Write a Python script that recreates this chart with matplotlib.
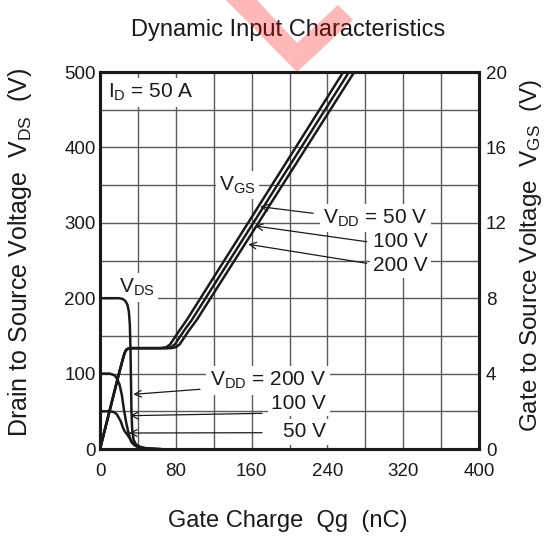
import matplotlib
matplotlib.use('Agg')
import matplotlib.pyplot as plt
from matplotlib.patches import Polygon

plt.rcParams['font.family'] = ['Liberation Sans', 'DejaVu Sans']
plt.rcParams['mathtext.fontset'] = 'custom'
plt.rcParams['mathtext.rm'] = 'Liberation Sans'
plt.rcParams['mathtext.default'] = 'regular'

ink = '#1a1a1a'

# ---- data ----
# Drain-source voltage (left axis, V) vs gate charge (nC)
qg_vds_200 = [0, 20, 24, 27, 29, 30.5, 31.5, 32.2, 32.7, 33.2, 34, 35.5, 38, 42, 48, 56, 65]
vds_200 = [200, 200, 199, 196, 191, 182, 165, 130, 90, 50, 25, 12, 6, 3, 1.2, 0.4, 0]

qg_vds_100 = [0, 10, 13, 16, 18, 20.5, 23, 25.3, 27.8, 30, 31.3, 33.5, 36.6, 41, 47, 55, 62]
vds_100 = [100, 100, 99, 97, 93, 86, 72, 52, 34, 22, 16, 9, 5, 2.5, 1, 0.3, 0]

qg_vds_50 = [0, 10, 13, 16, 18, 20, 22, 24, 26, 28, 31, 33.5, 36.6, 40, 44, 52, 58]
vds_50 = [50, 50, 49.5, 48, 45.5, 41, 36.5, 29, 23.5, 20.5, 15, 9, 5, 2.5, 1, 0.3, 0]

# Gate-source voltage (right axis, V) vs gate charge (nC)
qg_vgs_50 = [0, 10, 20, 24, 26, 28, 31, 64, 70, 74, 78, 84, 91.5, 256.8]
qg_vgs_100 = [0, 10, 20, 24, 26, 28, 31, 70, 75, 79, 83, 89, 96.8, 262.8]
qg_vgs_200 = [0, 10, 20, 24, 26, 28, 31, 75, 80, 84, 88, 94, 102, 268.4]
vgs_50 = [0, 2.0, 4.0, 4.75, 5.1, 5.28, 5.35, 5.35, 5.4, 5.55, 5.85, 6.3, 6.84, 20]
vgs_100 = vgs_50
vgs_200 = vgs_50

x_ticks = [0, 80, 160, 240, 320, 400]
left_ticks = [0, 100, 200, 300, 400, 500]
right_ticks = [0, 4, 8, 12, 16, 20]

# ---- figure ----
fig = plt.figure(figsize=(5.47, 5.36), dpi=100)
ax = fig.add_axes([100 / 547, 1 - 449 / 536, 379 / 547, 377 / 536])
ax2 = ax.twinx()

ax.set_xlim(0, 400)
ax.set_ylim(0, 500)
ax2.set_ylim(0, 20)

ax.set_xticks(x_ticks)
ax.set_xticks(range(0, 401, 40), minor=True)
ax.set_yticks(left_ticks)
ax.set_yticks(range(0, 501, 50), minor=True)
ax2.set_yticks(right_ticks)

ax.set_axisbelow(True)
ax.grid(True, which='both', color='#5a5a5a', lw=1.0)

for a in (ax, ax2):
    a.tick_params(which='both', length=0, labelsize=13.5, labelcolor=ink)
    for s in a.spines.values():
        s.set_linewidth(2.2)
        s.set_color(ink)
ax.tick_params(axis='x', pad=10)
ax.tick_params(axis='y', pad=3)
ax2.tick_params(axis='y', pad=5)

# curves
for q, v in [(qg_vds_200, vds_200), (qg_vds_100, vds_100), (qg_vds_50, vds_50)]:
    ax.plot(q, v, color=ink, lw=1.8, zorder=3, solid_capstyle='butt')
for q, v in [(qg_vgs_50, vgs_50), (qg_vgs_100, vgs_100), (qg_vgs_200, vgs_200)]:
    ax2.plot(q, v, color=ink, lw=1.8, zorder=3, solid_capstyle='butt')

# labels
box = dict(facecolor='white', edgecolor='none', pad=2.5)
tfs = 15
ax.text(8, 473, r'I$_{D}$ = 50 A', fontsize=tfs, color=ink, va='center', ha='left',
        bbox=box, zorder=2.5)
ax.text(145, 350, r'V$_{GS}$', fontsize=tfs, color=ink, va='center', ha='center',
        bbox=box, zorder=2.5)
ax.text(39, 214, r'V$_{DS}$', fontsize=tfs, color=ink, va='center', ha='center',
        bbox=box, zorder=2.5)

ax.text(346, 306, r'V$_{DD}$ = 50 V', fontsize=tfs, color=ink, va='center', ha='right',
        bbox=box, zorder=2.5)
ax.text(346, 275, '100 V', fontsize=tfs, color=ink, va='center', ha='right',
        bbox=box, zorder=2.5)
ax.text(346, 244, '200 V', fontsize=tfs, color=ink, va='center', ha='right',
        bbox=box, zorder=2.5)

ax.text(238.5, 91, r'V$_{DD}$ = 200 V', fontsize=tfs, color=ink, va='center', ha='right',
        bbox=box, zorder=2.5)
ax.text(238.5, 61, '100 V', fontsize=tfs, color=ink, va='center', ha='right',
        bbox=box, zorder=2.5)
ax.text(238.5, 23, '50 V', fontsize=tfs, color=ink, va='center', ha='right',
        bbox=box, zorder=2.5)

arrow = dict(arrowstyle='->', lw=0.9, color=ink, shrinkA=0, shrinkB=0,
             mutation_scale=12)
for tail, tip in [((225, 312.6), (168.9, 321.4)),
                  ((281.5, 274.9), (163.6, 295.8)),
                  ((281.5, 246.3), (156.5, 271.5)),
                  ((105.5, 79.2), (35.1, 72.5)),
                  ((171, 47.3), (31.7, 44.2)),
                  ((171, 21.6), (30.6, 21.2))]:
    ax.annotate('', xy=tip, xytext=tail, arrowprops=arrow, zorder=4)

ax.set_xlabel('Gate Charge  Qg  (nC)', fontsize=17, color=ink)
ax.xaxis.set_label_coords(0.496, -0.162)
ax.set_ylabel(r'Drain to Source Voltage  V$_{DS}$  (V)', fontsize=18, color=ink)
ax.yaxis.set_label_coords(-0.174, 0.521)
ax2.set_ylabel(r'Gate to Source Voltage  V$_{GS}$  (V)', fontsize=17.5, color=ink)
ax2.yaxis.set_label_coords(1.102, 0.515)

fig.text(288 / 547, 1 - 30 / 536, 'Dynamic Input Characteristics', fontsize=17,
         color=ink, ha='center', va='center')

# pink check-mark watermark behind the title
mark_px = [(226, 0), (257, 0), (297, 43), (338, 5), (353, 20), (297, 72)]
mark = Polygon([(x / 547, 1 - y / 536) for x, y in mark_px], closed=True,
               transform=fig.transFigure, facecolor='red', edgecolor='none',
               alpha=0.28, zorder=5)
fig.patches.append(mark)

fig.savefig('out.png', dpi=100)
